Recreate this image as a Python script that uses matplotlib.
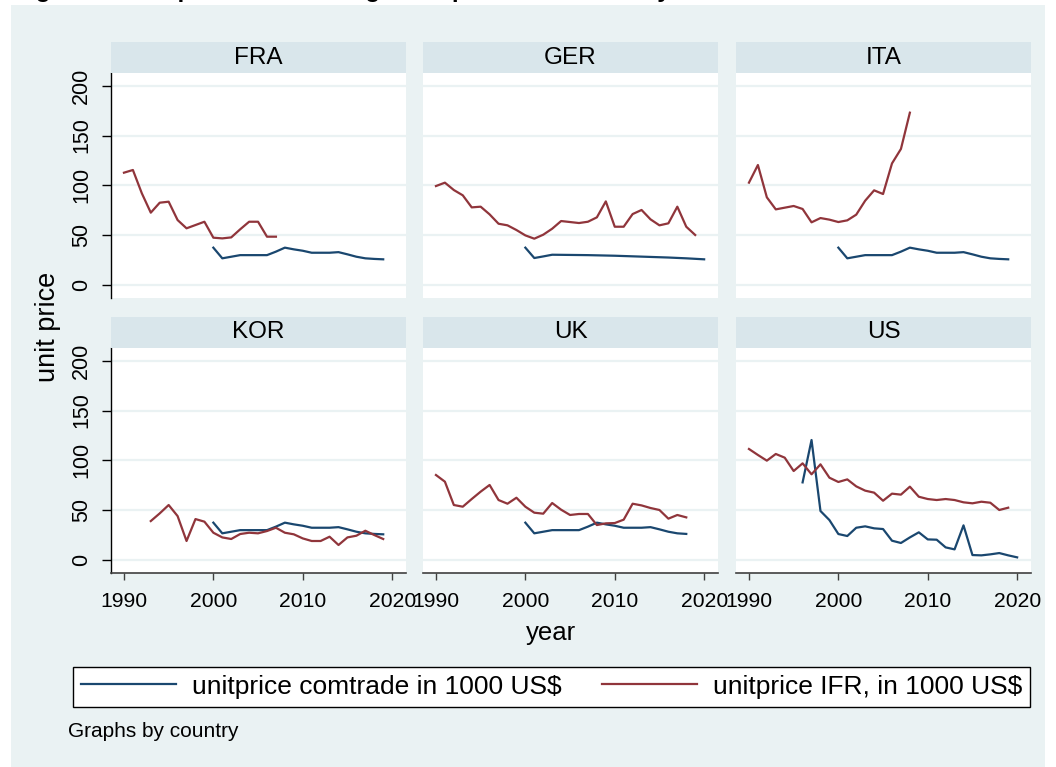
"""
Unit price of robots by country: Comtrade vs IFR, small multiples.
"""

import matplotlib
matplotlib.use("Agg")
import matplotlib.pyplot as plt
from matplotlib.patches import Rectangle


W, H = 1056, 767

COUNTRIES = ["FRA", "GER", "ITA", "KOR", "UK", "US"]

# IFR unit prices (1000 US$), first year given separately
fra_ifr_start = 1990
fra_ifr = [112.7, 115.4, 92, 72.6, 82.6, 83.6, 65.2, 56.9, 60.2, 63.5,
           47.5, 46.8, 47.8, 55.9, 63.5, 63.5, 48.5, 48.5]
ger_ifr_start = 1990
ger_ifr = [99.3, 102.7, 95.3, 90, 77.9, 78.6, 70.9, 61.5, 59.9, 55.2,
           49.8, 46.5, 50.5, 56.5, 64.2, 63.2, 62.2, 63.5, 67.9, 83.9,
           58.5, 58.5, 71.2, 75.3, 65.9, 59.9, 61.9, 78.6, 58.5, 50.2]
ita_ifr_start = 1990
ita_ifr = [102.7, 120.4, 88, 75.9, 77.6, 79.3, 76.3, 62.9, 67.2, 65.6,
           63.2, 64.9, 70.6, 84.6, 95, 91.3, 122, 136.5, 172.9]
kor_ifr_start = 1993
kor_ifr = [39.1, 46.8, 55.2, 44.1, 19.1, 41.1, 38.5, 27.4, 22.7, 21.1,
           26.1, 27.4, 26.8, 29.1, 32.4, 27.4, 25.8, 21.7, 19.1, 19.1,
           23.4, 15.1, 22.7, 24.4, 29.4, 25.1, 21.1]
uk_ifr_start = 1990
uk_ifr = [85.3, 78.6, 55.2, 53.5, 61.2, 68.6, 75.3, 60.2, 56.5, 62.5,
          53.5, 47.5, 46.5, 57.2, 50.5, 45.2, 46.2, 46.2, 35.1, 36.8,
          37.1, 40.5, 56.5, 54.8, 52.2, 50.2, 41.5, 45.2, 42.8]
us_ifr_start = 1990
us_ifr = [111.4, 105.4, 99.7, 106.4, 102.7, 89.3, 97, 86, 96, 82.6,
          78.3, 80.9, 73.9, 69.6, 67.6, 59.5, 66.6, 65.6, 73.6, 63.5,
          61.2, 60.2, 61.2, 60.2, 57.9, 56.9, 58.5, 57.5, 50.2, 52.5]

# Comtrade unit prices (1000 US$)
fra_com_start = 2000
fra_com = [37.5, 26.8, 28.4, 30, 30, 30, 30, 33.5, 37.5, 35.8,
           34.4, 32.4, 32.4, 32.4, 33, 30.8, 28.4, 26.8, 26.2, 25.8]
ger_com_start = 2000
ger_com = [37.5, 27.1, 28.7, 30.4, 30.3, 30.2, 30.1, 30.0, 29.8, 29.6,
           29.4, 29.1, 28.8, 28.5, 28.2, 27.9, 27.6, 27.2, 26.8, 26.3, 25.8]
ita_com_start = 2000
ita_com = [37.5, 26.8, 28.4, 30, 30, 30, 30, 33.5, 37.5, 35.8,
           34.4, 32.4, 32.4, 32.4, 33, 30.8, 28.4, 26.8, 26.2, 25.8]
kor_com_start = 2000
kor_com = [37.5, 26.8, 28.4, 30, 30, 30, 30, 33.5, 37.5, 35.8,
           34.4, 32.4, 32.4, 32.4, 33, 30.8, 28.4, 26.8, 26.2, 25.8]
uk_com_start = 2000
uk_com = [37.5, 26.8, 28.4, 30, 30, 30, 30, 33.5, 37.5, 35.8,
          34.4, 32.4, 32.4, 32.4, 33, 30.8, 28.4, 26.8, 26.2]
us_com_start = 1996
us_com = [77.9, 120.4, 49.2, 40.1, 26.1, 24.1, 32.4, 33.8, 31.8, 31.1,
          19.4, 17.1, 22.7, 27.8, 20.7, 20.4, 12.7, 10.7, 34.8, 5,
          4.7, 5.7, 7, 4.7, 2.7]

X_TICKS = [1990, 2000, 2010, 2020]
Y_TICKS = [0, 50, 100, 150, 200]

NAVY = "#1A476F"
MAROON = "#90353B"
BG = "#EAF2F3"
STRIP = "#D9E6EB"

plt.rcParams["font.family"] = ["Liberation Sans", "DejaVu Sans"]


def years(start, values):
    return list(range(start, start + len(values)))


def main():
    series = {
        "FRA": ((fra_com_start, fra_com), (fra_ifr_start, fra_ifr)),
        "GER": ((ger_com_start, ger_com), (ger_ifr_start, ger_ifr)),
        "ITA": ((ita_com_start, ita_com), (ita_ifr_start, ita_ifr)),
        "KOR": ((kor_com_start, kor_com), (kor_ifr_start, kor_ifr)),
        "UK": ((uk_com_start, uk_com), (uk_ifr_start, uk_ifr)),
        "US": ((us_com_start, us_com), (us_ifr_start, us_ifr)),
    }

    fig = plt.figure(figsize=(W / 100, H / 100), dpi=100)
    fig.patch.set_facecolor("white")
    fig.patches.append(Rectangle((11 / W, 0), (1045 - 11) / W, 1 - 5 / H,
                                 transform=fig.transFigure,
                                 facecolor=BG, edgecolor="none", zorder=-10))

    # title of the page, mostly cut off at the top edge (as in the source)
    fig.text(14 / W, 1 + 3 / H,
             "Figure 4: Comparison of average unit prices of robots by IFR and Comtrade",
             fontsize=17.5, fontweight="bold", va="baseline", ha="left", zorder=5)

    col_x = [111, 423, 736]
    row_top = [73, 348]
    pw, ph, sh = 295, 225, 31

    handles = None
    for i, country in enumerate(COUNTRIES):
        r, c = divmod(i, 3)
        left = col_x[c] / W
        bottom = 1 - (row_top[r] + ph) / H
        ax = fig.add_axes([left, bottom, pw / W, ph / H])
        ax.set_facecolor("white")

        # strip with the country name
        sax = fig.add_axes([left, 1 - row_top[r] / H, pw / W, sh / H])
        sax.set_facecolor(STRIP)
        sax.set_xticks([])
        sax.set_yticks([])
        for s in sax.spines.values():
            s.set_visible(False)
        sax.text(0.5, 0.5, country, ha="center", va="center", fontsize=17.5,
                 transform=sax.transAxes)

        (cs, cv), (fs, fv) = series[country]
        l1, = ax.plot(years(cs, cv), cv, color=NAVY, lw=1.6, zorder=3,
                      label="unitprice comtrade in 1000 US$")
        l2, = ax.plot(years(fs, fv), fv, color=MAROON, lw=1.6, zorder=3,
                      label="unitprice IFR, in 1000 US$")
        handles = [l1, l2]

        ax.set_xlim(1988.55, 2021.55)
        ax.set_ylim(-13, 212.7)
        ax.set_yticks(Y_TICKS)
        ax.set_xticks(X_TICKS)
        ax.grid(axis="y", color=BG, lw=1.6)
        ax.set_axisbelow(True)
        for s in ax.spines.values():
            s.set_visible(False)

        if c == 0:
            ax.spines["left"].set_visible(True)
            ax.spines["left"].set_color("black")
            ax.spines["left"].set_linewidth(1.0)
            ax.tick_params(axis="y", length=6.5, width=1, pad=7, labelsize=15.5,
                           color="black")
            for lab in ax.get_yticklabels():
                lab.set_rotation(90)
                lab.set_va("center")
        else:
            ax.tick_params(axis="y", left=False, labelleft=False)

        if r == 1:
            ax.spines["bottom"].set_visible(True)
            ax.spines["bottom"].set_color("#404040")
            ax.spines["bottom"].set_linewidth(1.2)
            ax.tick_params(axis="x", length=5, width=1, pad=8.5, labelsize=15.2,
                           color="#404040")
        else:
            ax.tick_params(axis="x", bottom=False, labelbottom=False)

    fig.text(48 / W, 1 - 327 / H, "unit price", rotation=90, ha="center",
             va="center", fontsize=19.5)
    fig.text(551 / W, 1 - 633 / H, "year", ha="center", va="center",
             fontsize=18.5)

    leg = fig.legend(handles, [h.get_label() for h in handles],
                     loc="lower left", mode="expand", ncol=2,
                     bbox_to_anchor=(73 / W, 1 - 706.5 / H,
                                     (1030 - 73) / W, 48.5 / H),
                     borderaxespad=0, fancybox=False, framealpha=1,
                     edgecolor="black", fontsize=19, handlelength=3.6,
                     handletextpad=0.6, borderpad=0.3)
    leg.get_frame().set_linewidth(1.0)

    fig.text(68 / W, 1 - 737 / H, "Graphs by country", ha="left",
             va="baseline", fontsize=15)

    fig.savefig("out.png", dpi=100)
    plt.close(fig)


if __name__ == "__main__":
    main()
